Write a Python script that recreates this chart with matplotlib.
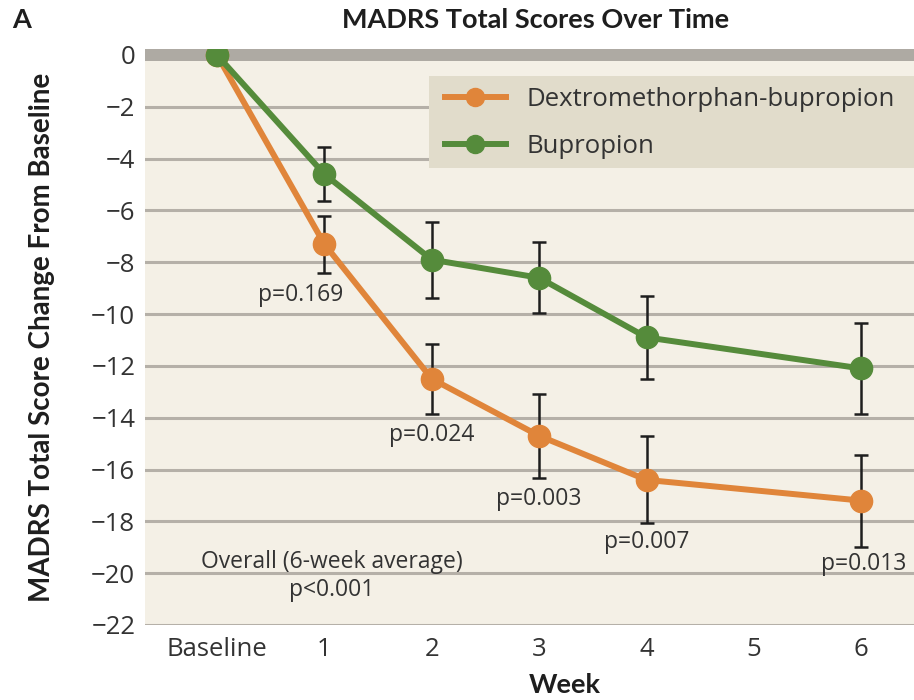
import matplotlib
matplotlib.use("Agg")
import matplotlib.pyplot as plt
from matplotlib.lines import Line2D
from matplotlib.patches import Rectangle

plt.rcParams['font.family'] = ['Open Sans', 'DejaVu Sans']
plt.rcParams['axes.unicode_minus'] = True
BOLD = ['Lato', 'DejaVu Sans']

# ---- data ----
x_labels = ['Baseline', '1', '2', '3', '4', '5', '6']
weeks = [0, 1, 2, 3, 4, 6]
dxm_mean = [0, -7.3, -12.5, -14.7, -16.4, -17.2]
dxm_err = [0, 1.1, 1.35, 1.62, 1.68, 1.78]
bup_mean = [0, -4.6, -7.9, -8.6, -10.9, -12.1]
bup_err = [0, 1.05, 1.47, 1.37, 1.6, 1.75]
p_labels = ['p=0.169', 'p=0.024', 'p=0.003', 'p=0.007', 'p=0.013']
p_x = [0.78, 2.0, 3.0, 4.0, 6.02]
p_y = [-9.26, -14.65, -17.13, -18.8, -19.65]

ORANGE = '#E0853A'
GREEN = '#558B3B'
BG = '#F4F0E6'
GRID = '#B5B0A8'
TXT = '#333333'

fig = plt.figure(figsize=(9.14, 7.0), dpi=100)
ax = fig.add_axes([145/914, 75/700, 769/914, 576/700])
ax.set_facecolor(BG)
for s in ax.spines.values():
    s.set_visible(False)

ax.set_xlim(-0.67, 6.49)
ax.set_ylim(-22, 0.23)

for yv in range(-22, 0, 2):
    ax.axhline(yv, color=GRID, lw=2.2, zorder=1)
ax.axhspan(-0.25, 0.25, color='#AEAAA3', lw=0, zorder=1)

# error bars
ax.errorbar(weeks[1:], bup_mean[1:], yerr=bup_err[1:], fmt='none', ecolor='#1E1E1E',
            elinewidth=1.8, capsize=5, capthick=1.8, zorder=2)
ax.errorbar(weeks[1:], dxm_mean[1:], yerr=dxm_err[1:], fmt='none', ecolor='#1E1E1E',
            elinewidth=1.8, capsize=5, capthick=1.8, zorder=2)

ax.plot(weeks, dxm_mean, color=ORANGE, lw=4.3, marker='o', ms=16, zorder=3)
ax.plot(weeks, bup_mean, color=GREEN, lw=4.3, marker='o', ms=16, zorder=4)

for t, xx, yy in zip(p_labels, p_x, p_y):
    ax.text(xx, yy, t, ha='center', va='center', fontsize=16.5, color=TXT, zorder=5)
ax.text(1.07, -19.57, 'Overall (6-week average)', ha='center', va='center', fontsize=16.5, color=TXT)
ax.text(1.07, -20.66, 'p<0.001', ha='center', va='center', fontsize=16.5, color=TXT)

ax.set_xticks(range(7))
ax.set_xticklabels(x_labels)
ax.set_yticks(range(-22, 1, 2))
ax.tick_params(axis='both', length=0, labelsize=18.5, colors=TXT)
ax.tick_params(axis='x', pad=9)
ax.tick_params(axis='y', pad=7)

ax.set_xlabel('Week', fontsize=19.5, fontweight='bold', color='#1E1E1E', labelpad=0,
              family=BOLD)
ax.xaxis.set_label_coords((565 - 145) / 769, -0.083)
ax.set_ylabel('MADRS Total Score Change From Baseline', fontsize=20, fontweight='bold',
              color='#1E1E1E', family=BOLD)
ax.yaxis.set_label_coords(-(145 - 55) / 769, 0.5)

# legend background box
ax.add_patch(Rectangle(((429 - 145) / 769, (625 - 168) / 576), 1.0, 92 / 576,
                       transform=ax.transAxes, facecolor='#E1DCCB', edgecolor='none',
                       zorder=6, clip_on=False))
handles = [Line2D([0], [0], color=ORANGE, lw=4.3, marker='o', ms=13),
           Line2D([0], [0], color=GREEN, lw=4.3, marker='o', ms=13)]
leg = ax.legend(handles, ['Dextromethorphan-bupropion', 'Bupropion'],
                loc='upper left', bbox_to_anchor=((445 - 145) / 769, (625 - 87) / 576),
                fontsize=18.5, frameon=False, handlelength=2.37,
                borderpad=0, labelspacing=0.85, handletextpad=0.82, borderaxespad=0)
leg.set_zorder(7)
for t in leg.get_texts():
    t.set_color(TXT)

fig.text(536/914, 1 - 20/700, 'MADRS Total Scores Over Time', ha='center', va='center',
         fontsize=19.5, fontweight='bold', color='#1E1E1E', family=BOLD)
fig.text(22/914, 1 - 20/700, 'A', ha='center', va='center', fontsize=19.5,
         fontweight='bold', color='#1E1E1E', family=BOLD)

fig.savefig('out.png', dpi=100, facecolor='white')
